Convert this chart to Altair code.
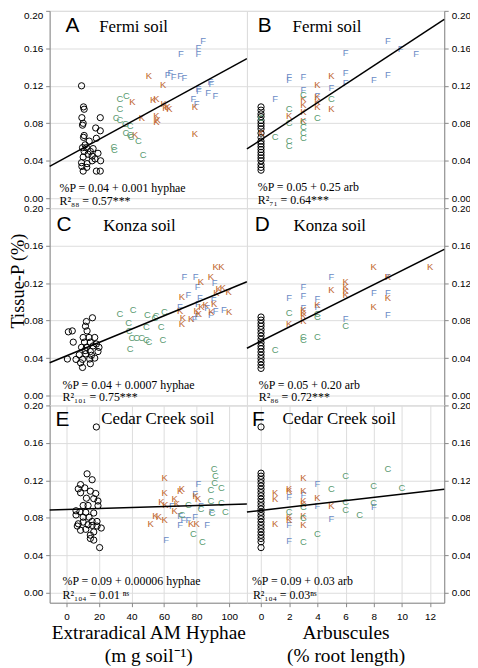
import altair as alt
import pandas as pd

SERIF = "Liberation Serif"
SANS = "Liberation Sans"

# ---------------- scales / ticks ----------------
hyphae_domain = [-10.3, 110.9]
arb_domain = [-1.0, 13.0]
p_domain = [-0.0105, 0.20]
p_ticks = [0.0, 0.04, 0.08, 0.12, 0.16, 0.20]
hyphae_ticks = [0, 20, 40, 60, 80, 100]
arb_ticks = [0, 2, 4, 6, 8, 10, 12]

letters = ["F", "K", "C"]
letter_colors = ["#6b8cc6", "#c0652b", "#5a9a70"]

# ---------------- Panel A : Fermi soil, hyphae ----------------
A_O = [(9.3, 0.120), (10.5, 0.0975), (10.9, 0.095), (9.5, 0.086), (10.3, 0.080), (9.9, 0.078),
       (10.9, 0.067), (10.5, 0.065), (20.8, 0.086), (18.0, 0.075), (20.8, 0.072), (18.4, 0.064),
       (14.0, 0.061), (11.5, 0.057), (9.9, 0.054), (12.3, 0.054), (16.4, 0.053), (10.9, 0.050),
       (14.7, 0.050), (19.4, 0.048), (13.3, 0.047), (15.8, 0.045), (10.3, 0.044), (17.6, 0.042),
       (21.0, 0.040), (9.3, 0.038), (12.7, 0.037), (15.8, 0.040), (9.5, 0.034), (12.5, 0.033),
       (18.4, 0.029), (20.8, 0.029), (10.3, 0.029)]
A_C = [(32.9, 0.106), (36.8, 0.109), (32.9, 0.095), (30.5, 0.086), (32.9, 0.0835), (36.2, 0.079),
       (39.2, 0.0775), (36.6, 0.0695), (39.8, 0.065), (39.2, 0.067), (44.2, 0.061), (29.1, 0.055),
       (29.5, 0.052), (47.1, 0.046)]
A_K = [(50.7, 0.130), (59.4, 0.121), (40.6, 0.103), (53.3, 0.1045), (55.3, 0.106), (59.8, 0.101),
       (60.8, 0.096), (62.2, 0.0975), (63.2, 0.095), (46.3, 0.086), (55.3, 0.088), (56.0, 0.0835),
       (55.3, 0.081), (42.2, 0.068), (79.0, 0.0975), (79.0, 0.069)]
A_F = [(84.0, 0.168), (81.0, 0.160), (81.0, 0.154), (70.3, 0.154), (63.8, 0.134), (62.2, 0.1315),
       (65.9, 0.129), (69.9, 0.130), (72.5, 0.128), (88.5, 0.1245), (89.1, 0.122), (81.0, 0.117),
       (81.4, 0.114), (78.0, 0.106), (80.0, 0.101), (87.0, 0.1125), (91.5, 0.109)]
A_line = [(-10.3, 0.034), (110.9, 0.149)]

# ---------------- Panel B : Fermi soil, arbuscules ----------------
B_O_y = [0.0975, 0.094, 0.090, 0.087, 0.083, 0.080, 0.077, 0.074, 0.0695, 0.065, 0.061,
         0.058, 0.055, 0.052, 0.049, 0.046, 0.043, 0.040, 0.036, 0.033, 0.030]
B_C = [(0.0, 0.086), (1.0, 0.065), (2.0, 0.095), (2.0, 0.080), (2.0, 0.061), (2.0, 0.0555),
       (3.0, 0.110), (3.0, 0.081), (3.0, 0.0765), (3.0, 0.0695), (3.0, 0.064), (4.0, 0.086),
       (5.0, 0.1055)]
B_K = [(0.0, 0.0695), (2.0, 0.088), (3.0, 0.1055), (3.0, 0.099), (3.0, 0.092), (3.0, 0.082),
       (4.0, 0.121), (4.0, 0.108), (4.0, 0.103), (4.0, 0.0975), (5.0, 0.130), (5.0, 0.095)]
B_F = [(1.0, 0.106), (2.0, 0.129), (2.0, 0.1265), (3.0, 0.129), (3.0, 0.115), (4.0, 0.109),
       (5.0, 0.1175), (6.0, 0.1547), (6.0, 0.1337), (6.0, 0.123), (8.0, 0.1267), (9.0, 0.1677),
       (9.0, 0.1316), (9.9, 0.159), (11.0, 0.1537)]
B_line = [(-1.0, 0.0526), (13.0, 0.191)]

# ---------------- Panel C : Konza soil, hyphae ----------------
C_O = [(1.2, 0.068), (3.6, 0.069), (4.2, 0.057), (0.6, 0.039), (12.3, 0.079), (11.7, 0.074),
       (16.0, 0.083), (12.7, 0.069), (10.3, 0.062), (13.9, 0.062), (17.4, 0.062), (11.1, 0.057),
       (14.7, 0.057), (18.4, 0.055), (9.3, 0.0515), (12.3, 0.0515), (16.4, 0.053), (20.0, 0.0515),
       (11.5, 0.048), (14.7, 0.047), (19.4, 0.047), (7.9, 0.0435), (11.9, 0.0445), (15.4, 0.043),
       (5.9, 0.0386), (9.9, 0.0386), (14.3, 0.039), (17.4, 0.040), (8.7, 0.035), (14.7, 0.034),
       (9.9, 0.030)]
C_C = [(32.9, 0.087), (41.0, 0.0915), (38.2, 0.0776), (38.6, 0.0689), (49.7, 0.0863), (55.2, 0.085),
       (54.3, 0.0828), (60.2, 0.0887), (49.1, 0.0734), (58.2, 0.073), (40.2, 0.0619), (43.2, 0.0619),
       (46.2, 0.0619), (49.1, 0.0595), (50.7, 0.0567), (59.2, 0.0595), (39.2, 0.0497)]
C_K = [(91.7, 0.137), (95.2, 0.137), (88.7, 0.127), (82.6, 0.121), (93.5, 0.114), (96.2, 0.115),
       (99.6, 0.111), (92.1, 0.109), (70.9, 0.1047), (69.9, 0.0897), (83.0, 0.095), (80.0, 0.0897),
       (90.7, 0.0974), (71.5, 0.0828), (70.9, 0.0765), (76.6, 0.0817), (81.4, 0.0873), (89.1, 0.0887),
       (100.0, 0.0887), (85.5, 0.0967)]
C_F = [(72.5, 0.127), (79.4, 0.126), (91.1, 0.120), (80.6, 0.116), (74.9, 0.107), (82.0, 0.1037),
       (69.7, 0.094), (80.8, 0.098), (86.5, 0.093), (90.5, 0.102), (96.8, 0.0915), (80.4, 0.0845),
       (78.8, 0.082), (88.7, 0.086), (91.7, 0.0897)]
C_line = [(-10.3, 0.035), (110.9, 0.1215)]

# ---------------- Panel D : Konza soil, arbuscules ----------------
D_O_y = [0.0838, 0.0805, 0.077, 0.074, 0.0705, 0.067, 0.0635, 0.060, 0.0565, 0.053, 0.050,
         0.0465, 0.043, 0.0395, 0.036, 0.0325, 0.029]
D_C = [(1.0, 0.049), (2.0, 0.088), (3.0, 0.062), (3.0, 0.059), (4.0, 0.087), (4.0, 0.0838),
       (4.0, 0.062), (6.0, 0.074)]
D_K = [(2.0, 0.0768), (3.0, 0.0915), (3.0, 0.088), (3.0, 0.085), (3.0, 0.080), (4.0, 0.0967),
       (5.0, 0.113), (6.0, 0.121), (6.0, 0.116), (6.0, 0.1117), (6.0, 0.107), (8.0, 0.1367),
       (8.0, 0.095), (9.0, 0.126), (9.0, 0.1037), (12.0, 0.1367)]
D_F = [(2.0, 0.1037), (3.0, 0.1158), (3.0, 0.106), (3.0, 0.093), (4.0, 0.1026), (4.0, 0.095),
       (5.0, 0.127), (6.0, 0.0817), (8.0, 0.109), (9.0, 0.1096), (9.0, 0.0863), (9.0, 0.126)]
D_line = [(-1.0, 0.0505), (13.0, 0.156)]

# ---------------- Panel E : Cedar Creek soil, hyphae ----------------
E_O = [(18.4, 0.177), (12.7, 0.127), (15.8, 0.1207), (8.7, 0.1155), (7.3, 0.111), (11.3, 0.112),
       (14.7, 0.1085), (18.0, 0.106), (8.7, 0.1068), (12.3, 0.101), (19.4, 0.098), (16.8, 0.1005),
       (10.3, 0.0932), (13.3, 0.0932), (19.4, 0.093), (5.9, 0.0876), (8.3, 0.0866), (11.9, 0.0859),
       (16.8, 0.0852), (5.9, 0.0831), (10.3, 0.0807), (13.9, 0.0807), (15.8, 0.0762), (18.8, 0.0762),
       (7.3, 0.0737), (10.3, 0.0755), (13.3, 0.0727), (6.7, 0.0713), (8.7, 0.0668), (15.8, 0.072),
       (18.8, 0.0713), (21.4, 0.0692), (11.9, 0.0678), (16.8, 0.065), (14.7, 0.0616), (14.7, 0.058),
       (16.8, 0.0563), (20.4, 0.0483)]
E_K = [(60.4, 0.1224), (60.4, 0.106), (70.9, 0.111), (69.9, 0.1085), (58.4, 0.097), (60.8, 0.0935),
       (66.5, 0.0998), (67.9, 0.0946), (66.5, 0.0876), (54.7, 0.0824), (56.8, 0.0807), (60.4, 0.0772),
       (51.7, 0.0737), (79.4, 0.1033), (81.0, 0.1005), (76.6, 0.0737), (80.0, 0.0737)]
E_F = [(81.0, 0.1165), (79.0, 0.105), (64.8, 0.0928), (69.9, 0.0824), (71.9, 0.0772), (74.9, 0.0779),
       (69.9, 0.072), (79.0, 0.0807), (86.5, 0.0727), (89.1, 0.0859), (61.2, 0.0563), (82.6, 0.0922)]
E_C = [(90.7, 0.1318), (91.5, 0.1242), (91.1, 0.1172), (95.2, 0.112), (88.7, 0.110), (74.9, 0.0936),
       (82.6, 0.0894), (88.7, 0.098), (95.2, 0.0963), (97.6, 0.0866), (89.5, 0.0849), (78.0, 0.0623),
       (83.6, 0.0539), (71.0, 0.083)]
E_line = [(-10.3, 0.0884), (110.9, 0.0949)]

# ---------------- Panel F : Cedar Creek soil, arbuscules ----------------
F_O_y = [0.177, 0.1277, 0.1245, 0.121, 0.1175, 0.114, 0.1105, 0.107, 0.1035, 0.100, 0.0965,
         0.093, 0.0895, 0.086, 0.0825, 0.079, 0.0755, 0.072, 0.0685, 0.065, 0.0615, 0.058,
         0.0545, 0.0483]
F_K = [(1.0, 0.106), (1.0, 0.1005), (1.0, 0.0737), (2.0, 0.111), (2.0, 0.1085), (2.0, 0.0807),
       (2.0, 0.0772), (3.0, 0.1224), (3.0, 0.1085), (3.0, 0.098), (3.0, 0.0946), (3.0, 0.0824),
       (3.0, 0.0727), (4.0, 0.1016), (5.0, 0.0929)]
F_F = [(2.0, 0.1026), (2.0, 0.072), (2.0, 0.0553), (3.0, 0.104), (4.0, 0.1165), (4.0, 0.0922),
       (5.0, 0.0783), (8.0, 0.0911)]
F_C = [(2.0, 0.0866), (3.0, 0.0911), (3.0, 0.0797), (3.0, 0.0539), (4.0, 0.0623), (5.0, 0.1103),
       (6.0, 0.1242), (6.0, 0.097), (6.0, 0.0887), (7.0, 0.0831), (8.0, 0.1144), (8.0, 0.0963),
       (9.0, 0.1318), (10.0, 0.112)]
F_line = [(-1.0, 0.0863), (13.0, 0.1105)]

# ---------------- panel texts ----------------
A_txt = ["A", "Fermi soil", "%P = 0.04 + 0.001 hyphae", "R²₈₈ = 0.57***"]
B_txt = ["B", "Fermi soil", "%P = 0.05 + 0.25 arb", "R²₇₁ = 0.64***"]
C_txt = ["C", "Konza soil", "%P = 0.04 + 0.0007 hyphae", "R²₁₀₁ = 0.75***"]
D_txt = ["D", "Konza soil", "%P = 0.05 + 0.20 arb", "R²₈₆ = 0.72***"]
E_txt = ["E", "Cedar Creek soil", "%P = 0.09 + 0.00006 hyphae", "R²₁₀₄ = 0.01 ⁿˢ"]
F_txt = ["F", "Cedar Creek soil", "%P = 0.09 + 0.03 arb", "R²₁₀₄ = 0.03ⁿˢ"]

y_title = "Tissue-P (%)"
x_title_left = ["Extraradical AM Hyphae", "(m g soil⁻¹)"]
x_title_right = ["Arbuscules", "(% root length)"]

W, H = 199, 199


def letters_df(F, K, C):
    rows = [(x, p, "F") for x, p in F] + [(x, p, "K") for x, p in K] + [(x, p, "C") for x, p in C]
    return pd.DataFrame(rows, columns=["x", "p", "g"])


def text_layer(s, x, y, font, size, baseline="alphabetic"):
    return alt.Chart(pd.DataFrame({"t": [s]})).mark_text(
        align="left", baseline=baseline, font=font, fontSize=size, color="black"
    ).encode(x=alt.value(x), y=alt.value(y), text="t:N")


def panel(circles, F, K, C, line, xdom, xticks, txt, pos, left, top, bottom, xtitle=None, ytitle=None):
    xs = alt.Scale(domain=xdom, nice=False, zero=False)
    ys = alt.Scale(domain=p_domain, nice=False, zero=False)
    if bottom:
        xax = alt.Axis(values=xticks, title=xtitle, tickSize=4, labelPadding=5, titlePadding=2,
                       titleFont=SERIF, titleFontSize=19.5, titleFontWeight="normal",
                       titleLineHeight=23, titleColor="black")
    else:
        xax = None
    yargs = dict(orient="left" if left else "right", values=p_ticks, format=".2f",
                 tickSize=4, labelPadding=3, labelFlush=top)
    if ytitle:
        yargs.update(title=ytitle, titleX=-32, titleY=73, titleAngle=270, titleAlign="center",
                     titleBaseline="middle", titleFont=SERIF, titleFontSize=18.5,
                     titleFontWeight="normal", titleColor="black")
    else:
        yargs.update(title=None)
    yax = alt.Axis(**yargs)

    xenc = alt.X("x:Q", scale=xs, axis=xax)
    yenc = alt.Y("p:Q", scale=ys, axis=yax)

    line_df = pd.DataFrame(line, columns=["x", "p"])
    circ_df = pd.DataFrame(circles, columns=["x", "p"])
    let_df = letters_df(F, K, C)

    ln = alt.Chart(line_df).mark_line(color="black", strokeWidth=1.5).encode(x=xenc, y=yenc)
    circ = alt.Chart(circ_df).mark_point(shape="circle", filled=False, color="black",
                                         size=40, strokeWidth=1, opacity=1).encode(x=xenc, y=yenc)
    lets = alt.Chart(let_df).mark_text(font=SANS, fontSize=9.5, baseline="middle", align="center").encode(
        x=xenc, y=yenc, text="g:N",
        color=alt.Color("g:N", scale=alt.Scale(domain=letters, range=letter_colors), legend=None))

    (lx, ly), (tx, ty), (ex, ey), (rx, ry) = pos
    texts = [
        text_layer(txt[0], lx, ly, SANS, 21),
        text_layer(txt[1], tx, ty, SERIF, 17),
        text_layer(txt[2], ex, ey, SERIF, 12, "middle"),
        text_layer(txt[3], rx, ry, SERIF, 12, "middle"),
    ]
    return alt.layer(circ, lets, ln, *texts).properties(width=W, height=H)


pA = panel(A_O, A_F, A_K, A_C, A_line, hyphae_domain, hyphae_ticks, A_txt,
           [(16, 21), (50, 21), (10, 179), (10, 192)], True, True, False)
pB = panel([(0.0, y) for y in B_O_y], B_F, B_K, B_C, B_line, arb_domain, arb_ticks, B_txt,
           [(11, 21), (46, 21), (11, 178), (11, 191)], False, True, False)
pC = panel(C_O, C_F, C_K, C_C, C_line, hyphae_domain, hyphae_ticks, C_txt,
           [(7, 23), (54, 23), (13, 178), (13, 191)], True, False, False, ytitle=y_title)
pD = panel([(0.0, y) for y in D_O_y], D_F, D_K, D_C, D_line, arb_domain, arb_ticks, D_txt,
           [(8, 23), (47, 23), (12, 178), (12, 191)], False, False, False)
pE = panel(E_O, E_F, E_K, E_C, E_line, hyphae_domain, hyphae_ticks, E_txt,
           [(6, 21), (52, 19), (13, 177), (13, 191)], True, False, True, xtitle=x_title_left)
pF = panel([(0.0, y) for y in F_O_y], F_F, F_K, F_C, F_line, arb_domain, arb_ticks, F_txt,
           [(5, 21), (36, 19), (5, 177), (6, 191)], False, False, True, xtitle=x_title_right)

chart = alt.concat(pA, pB, pC, pD, pE, pF, columns=2, spacing=0, bounds="flush").properties(
    autosize=alt.AutoSizeParams(type="none"),
    padding={"left": 42, "top": 0, "right": 424, "bottom": 660},
).configure_view(
    stroke="black", strokeWidth=1.5
).configure_axis(
    grid=False, domain=False, tickColor="black", tickWidth=1,
    labelFont=SERIF, labelFontSize=10, labelColor="black",
).configure(background="white")

chart.save("out.html", embed_options={"renderer": "svg", "actions": False})
